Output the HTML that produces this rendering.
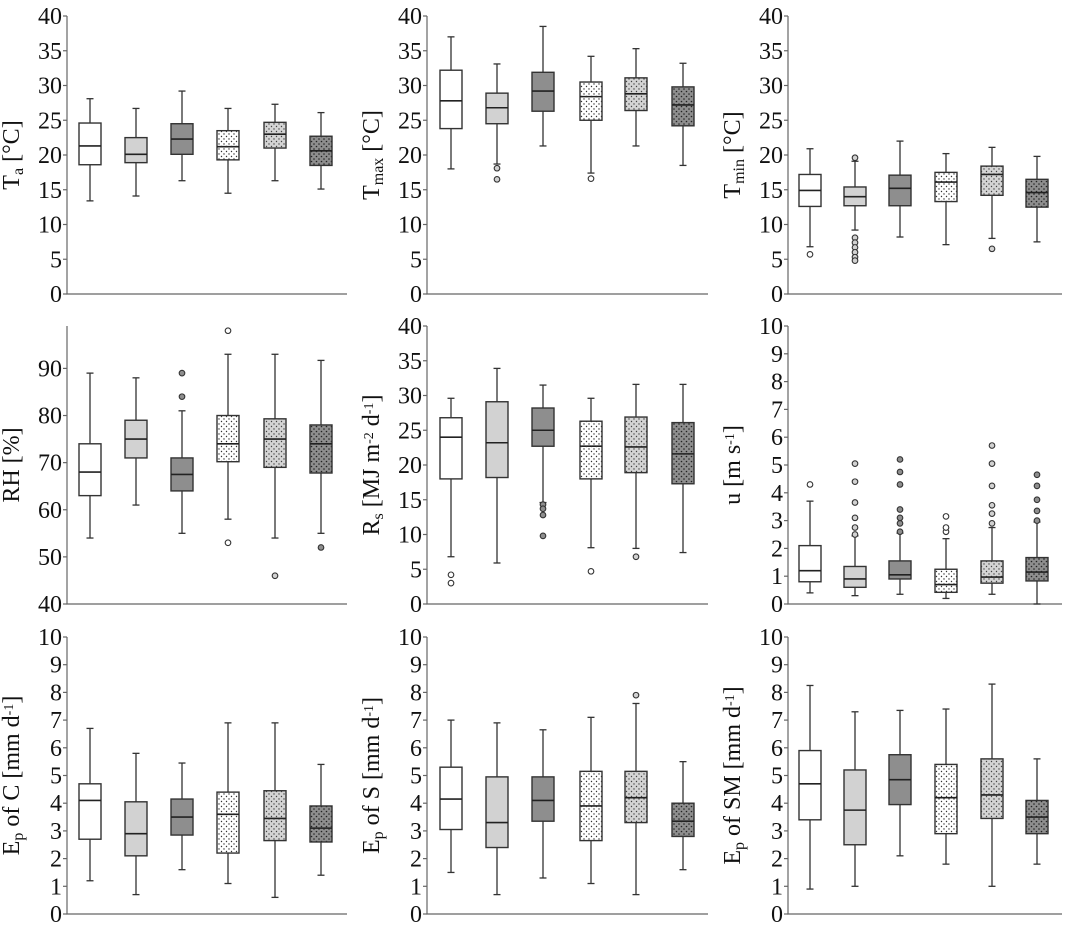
<!DOCTYPE html>
<html><head><meta charset="utf-8"><style>
html,body{margin:0;padding:0;background:#fff}
svg{display:block}
text{font-family:"Liberation Serif","Times New Roman",serif;fill:#111}
</style></head><body>
<svg id="chart" width="1072" height="927" viewBox="0 0 1072 927" xmlns="http://www.w3.org/2000/svg">
<defs>
<pattern id="dotW" width="5" height="5" patternUnits="userSpaceOnUse"><rect width="5" height="5" fill="#fff"/><circle cx="1.5" cy="1.5" r="0.7" fill="#333"/><circle cx="4" cy="4" r="0.7" fill="#333"/></pattern>
<pattern id="dotL" width="5" height="5" patternUnits="userSpaceOnUse"><rect width="5" height="5" fill="#d4d4d4"/><circle cx="1.5" cy="1.5" r="0.7" fill="#444"/><circle cx="4" cy="4" r="0.7" fill="#444"/></pattern>
<pattern id="dotD" width="5" height="5" patternUnits="userSpaceOnUse"><rect width="5" height="5" fill="#8e8e8e"/><circle cx="1.5" cy="1.5" r="0.8" fill="#222"/><circle cx="4" cy="4" r="0.8" fill="#222"/></pattern>
</defs>
</svg>
<script>
// Box stats per panel: [lowWhisker, q1, median, q3, highWhisker]
const taBoxes=[[13.4,18.6,21.3,24.6,28.1],[14.1,18.9,20.1,22.5,26.7],[16.3,20.1,22.3,24.5,29.2],[14.5,19.3,21.2,23.5,26.7],[16.3,21.0,23.0,24.7,27.3],[15.1,18.5,20.6,22.7,26.1]];
const taOut=[[],[],[],[],[],[]];
const tmaxBoxes=[[18,23.8,27.8,32.2,37],[18.7,24.5,26.8,28.9,33.1],[21.3,26.3,29.2,31.9,38.5],[17.4,25,28.4,30.5,34.2],[21.3,26.4,28.8,31.1,35.3],[18.5,24.2,27.2,29.8,33.2]];
const tmaxOut=[[],[18.1,16.5],[],[16.6],[],[]];
const tminBoxes=[[6.8,12.6,14.9,17.2,20.9],[9.2,12.7,14,15.4,19.1],[8.2,12.7,15.2,17.1,22],[7.1,13.3,16.1,17.5,20.2],[8.0,14.2,17.2,18.4,21.1],[7.5,12.5,14.6,16.5,19.8]];
const tminOut=[[5.7],[19.6,8.1,7.4,6.7,6.0,5.3,4.8],[],[],[6.5],[]];
const rhBoxes=[[54,63,68,74,89],[61,71,75,79,88],[55,64,67.5,71,81],[58,70.2,74,80,93],[54,69,75,79.3,93],[55,67.8,74,78,91.7]];
const rhOut=[[],[],[84,89],[98,53],[46],[52]];
const rsBoxes=[[6.8,18,24,26.8,29.6],[5.9,18.2,23.2,29.1,33.9],[14.6,22.7,25,28.2,31.5],[8.1,18,22.7,26.3,29.6],[8,18.9,22.6,26.9,31.6],[7.4,17.3,21.6,26.1,31.6]];
const rsOut=[[4.2,3.0],[],[14.3,13.7,12.8,9.8],[4.7],[6.8],[]];
const uBoxes=[[0.4,0.8,1.2,2.1,3.7],[0.3,0.6,0.9,1.35,2.45],[0.35,0.9,1.05,1.55,2.55],[0.2,0.42,0.7,1.25,2.35],[0.35,0.75,0.97,1.55,2.75],[0.0,0.83,1.15,1.67,2.95]];
const uOut=[[4.3],[2.5,2.75,3.1,3.65,4.4,5.05],[2.6,2.9,3.1,3.4,4.3,4.75,5.2],[2.6,2.75,3.15],[2.9,3.25,3.55,4.25,5.05,5.7],[3.0,3.35,3.75,4.25,4.65]];
const epcBoxes=[[1.2,2.7,4.1,4.7,6.7],[0.7,2.1,2.9,4.05,5.8],[1.6,2.85,3.5,4.15,5.45],[1.1,2.2,3.6,4.4,6.9],[0.6,2.65,3.45,4.45,6.9],[1.4,2.6,3.1,3.9,5.4]];
const epcOut=[[],[],[],[],[],[]];
const epsBoxes=[[1.5,3.05,4.15,5.3,7.0],[0.7,2.4,3.3,4.95,6.9],[1.3,3.35,4.1,4.95,6.65],[1.1,2.65,3.9,5.15,7.1],[0.7,3.3,4.2,5.15,7.6],[1.6,2.8,3.35,4.0,5.5]];
const epsOut=[[],[],[],[],[7.9],[]];
const epsmBoxes=[[0.9,3.4,4.7,5.9,8.25],[1.0,2.5,3.75,5.2,7.3],[2.1,3.95,4.85,5.75,7.35],[1.8,2.9,4.2,5.4,7.4],[1.0,3.45,4.3,5.6,8.3],[1.8,2.9,3.5,4.1,5.6]];
const epsmOut=[[],[],[],[],[],[]];
const ticks40=[0,5,10,15,20,25,30,35,40];
const ticksRH=[40,50,60,70,80,90];
const ticks10=[0,1,2,3,4,5,6,7,8,9,10];

const svg=document.getElementById('chart');
const NS='http://www.w3.org/2000/svg';
const fills=['#ffffff','#d2d2d2','#8e8e8e','url(#dotW)','url(#dotL)','url(#dotD)'];
const outFill=['#ffffff','#d2d2d2','#8e8e8e','#ffffff','#d2d2d2','#8e8e8e'];
const cols=[{ax:67,end:347,cx:[90,136,182,228,275,321]},{ax:427,end:708,cx:[451,497,543,591,636,683]},{ax:788,end:1062,cx:[810,855,900,946,992,1037]}];
const rows=[{top:16,bot:294},{top:326,bot:604},{top:637,bot:914}];
function el(tag,attrs,parent){const e=document.createElementNS(NS,tag);for(const k in attrs)e.setAttribute(k,attrs[k]);(parent||svg).appendChild(e);return e;}
const panels=[
 {r:0,c:0,name:'ta',boxes:taBoxes,out:taOut,ticks:ticks40,min:0,max:40,label:[['T',0],['a',1],[' [°C]',0]]},
 {r:0,c:1,name:'tmax',boxes:tmaxBoxes,out:tmaxOut,ticks:ticks40,min:0,max:40,label:[['T',0],['max',1],[' [°C]',0]]},
 {r:0,c:2,name:'tmin',boxes:tminBoxes,out:tminOut,ticks:ticks40,min:0,max:40,label:[['T',0],['min',1],[' [°C]',0]]},
 {r:1,c:0,name:'rh',boxes:rhBoxes,out:rhOut,ticks:ticksRH,min:40,max:99,label:[['RH [%]',0]]},
 {r:1,c:1,name:'rs',boxes:rsBoxes,out:rsOut,ticks:ticks40,min:0,max:40,label:[['R',0],['s',1],[' [MJ m',0],['-2',2],[' d',0],['-1',2],[']',0]]},
 {r:1,c:2,name:'u',boxes:uBoxes,out:uOut,ticks:ticks10,min:0,max:10,label:[['u [m s',0],['-1',2],[']',0]]},
 {r:2,c:0,name:'ep-c',boxes:epcBoxes,out:epcOut,ticks:ticks10,min:0,max:10,label:[['E',0],['p',1],[' of C [mm d',0],['-1',2],[']',0]]},
 {r:2,c:1,name:'ep-s',boxes:epsBoxes,out:epsOut,ticks:ticks10,min:0,max:10,label:[['E',0],['p',1],[' of S [mm d',0],['-1',2],[']',0]]},
 {r:2,c:2,name:'ep-sm',boxes:epsmBoxes,out:epsmOut,ticks:ticks10,min:0,max:10,label:[['E',0],['p',1],[' of SM [mm d',0],['-1',2],[']',0]]}
];
panels.forEach(p=>{
 const col=cols[p.c],row=rows[p.r];
 const g=el('g',{});
 
 
 const y=v=>row.bot-(v-p.min)/(p.max-p.min)*(row.bot-row.top);
 const ax=el('path',{d:`M${col.ax} ${row.top}V${row.bot}H${col.end}`,stroke:'#666','stroke-width':1.2,fill:'none'},g);
 
 
 p.ticks.forEach(t=>{
  el('line',{x1:col.ax-4,x2:col.ax,y1:y(t),y2:y(t),stroke:'#666','stroke-width':1.2},g);
  const tx=el('text',{x:col.ax-5,y:y(t)+8,'text-anchor':'end','font-size':24},g);
  tx.textContent=t;
  
  
 });
 const lx=col.ax-48, ly=(row.top+row.bot)/2;
 const lab=el('text',{x:0,y:0,'text-anchor':'middle','font-size':24,transform:`translate(${lx},${ly}) rotate(-90)`},g);
 
 
 p.label.forEach(([s,k])=>{const ts=el('tspan',{},lab);ts.textContent=s;if(k===1){ts.setAttribute('font-size',16);ts.setAttribute('baseline-shift','-25%');}if(k===2){ts.setAttribute('font-size',14);ts.setAttribute('baseline-shift','45%');}});
 p.boxes.forEach((b,i)=>{
  const cx=col.cx[i],w=22;
  const bg=el('g',{},g);
  
  
  el('line',{x1:cx,x2:cx,y1:y(b[0]),y2:y(b[4]),stroke:'#333','stroke-width':1.3},bg);
  el('line',{x1:cx-3.5,x2:cx+3.5,y1:y(b[0]),y2:y(b[0]),stroke:'#333','stroke-width':1.3},bg);
  el('line',{x1:cx-3.5,x2:cx+3.5,y1:y(b[4]),y2:y(b[4]),stroke:'#333','stroke-width':1.3},bg);
  el('rect',{x:cx-w/2,y:y(b[3]),width:w,height:y(b[1])-y(b[3]),fill:fills[i],stroke:'#333','stroke-width':1.4},bg);
  el('line',{x1:cx-w/2,x2:cx+w/2,y1:y(b[2]),y2:y(b[2]),stroke:'#222','stroke-width':1.6},bg);
  p.out[i].forEach(o=>{
   const c=el('circle',{cx:cx,cy:y(o),r:2.8,fill:outFill[i],stroke:'#333','stroke-width':1.1},bg);
   
   
  });
 });
});
</script>
</body></html>
